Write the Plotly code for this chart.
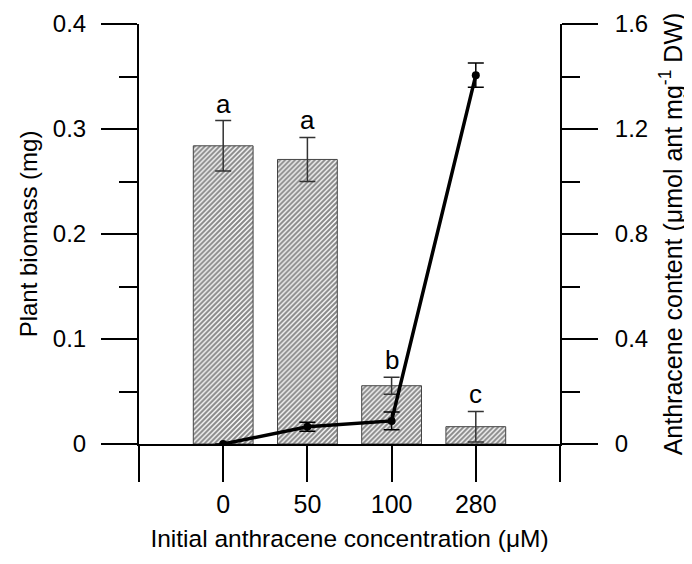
import plotly.graph_objects as go

# Data
categories = ["0", "50", "100", "280"]
biomass = [0.284, 0.271, 0.0555, 0.0165]
biomass_err = [0.024, 0.021, 0.008, 0.0145]
letters = ["a", "a", "b", "c"]
anthracene = [0.0, 0.066, 0.088, 1.405]
anthracene_err = [0.0, 0.017, 0.034, 0.046]

xpos = list(range(len(categories)))
FONT = "Arial, Liberation Sans, sans-serif"

fig = go.Figure()
fig.add_trace(go.Bar(
    x=xpos, y=biomass, width=0.71,
    marker=dict(color="white", line=dict(color="#444444", width=1),
                pattern=dict(shape="/", fgcolor="#111111", bgcolor="white", size=3.5, solidity=0.6)),
    error_y=dict(type="data", array=biomass_err, color="#333333", thickness=1.5, width=8),
    yaxis="y", showlegend=False,
))
fig.add_trace(go.Scatter(
    x=xpos, y=anthracene, mode="lines+markers",
    line=dict(color="black", width=3.5),
    marker=dict(color="black", size=8),
    error_y=dict(type="data", array=anthracene_err, color="black", thickness=1.5, width=8),
    yaxis="y2", showlegend=False,
))

for i, (b, e, t) in enumerate(zip(biomass, biomass_err, letters)):
    fig.add_annotation(x=i, y=b + e, text=t, showarrow=False, yanchor="bottom",
                       yshift=0, font=dict(size=26, color="black", family=FONT), yref="y")

fig.update_layout(
    width=684, height=556,
    margin=dict(l=131, r=132, t=16, b=120),
    plot_bgcolor="white", paper_bgcolor="white",
    font=dict(family=FONT, size=24, color="black"),
    xaxis=dict(
        range=[-1, 4], tickvals=[-1, 0, 1, 2, 3, 4],
        ticktext=[""] + categories + [""],
        tickfont=dict(size=25),
        ticks="outside", ticklen=36, tickwidth=2, tickcolor="black",
        showline=True, linecolor="black", linewidth=2, automargin=False,
        showgrid=False, zeroline=False, ticklabelstandoff=1,
        title=dict(text="Initial anthracene concentration (μM)", standoff=13,
                   font=dict(size=24.5)),
    ),
    yaxis=dict(
        range=[0, 0.4], tickvals=[0, 0.1, 0.2, 0.3, 0.4],
        ticktext=["0", "0.1", "0.2", "0.3", "0.4"],
        ticks="outside", ticklen=36, tickwidth=2, tickcolor="black",
        minor=dict(tickvals=[0.05, 0.15, 0.25, 0.35], ticks="outside", ticklen=18, tickwidth=2, tickcolor="black"),
        showline=True, linecolor="black", linewidth=2, automargin=False,
        showgrid=False, zeroline=False, ticklabelstandoff=10,
        title=dict(text="Plant biomass (mg)", standoff=8, font=dict(size=24)),
    ),
    yaxis2=dict(
        overlaying="y", side="right",
        range=[0, 1.6], tickvals=[0, 0.4, 0.8, 1.2, 1.6],
        ticktext=["0", "0.4", "0.8", "1.2", "1.6"],
        ticks="outside", ticklen=36, tickwidth=2, tickcolor="black",
        minor=dict(tickvals=[0.2, 0.6, 1.0, 1.4], ticks="outside", ticklen=18, tickwidth=2, tickcolor="black"),
        showline=True, linecolor="black", linewidth=2, automargin=False,
        showgrid=False, zeroline=False, ticklabelstandoff=12,
        title=dict(text="Anthracene content (μmol ant mg<sup>-1</sup> DW)", standoff=17, font=dict(size=25)),
    ),
)

fig.write_html("out.html")
